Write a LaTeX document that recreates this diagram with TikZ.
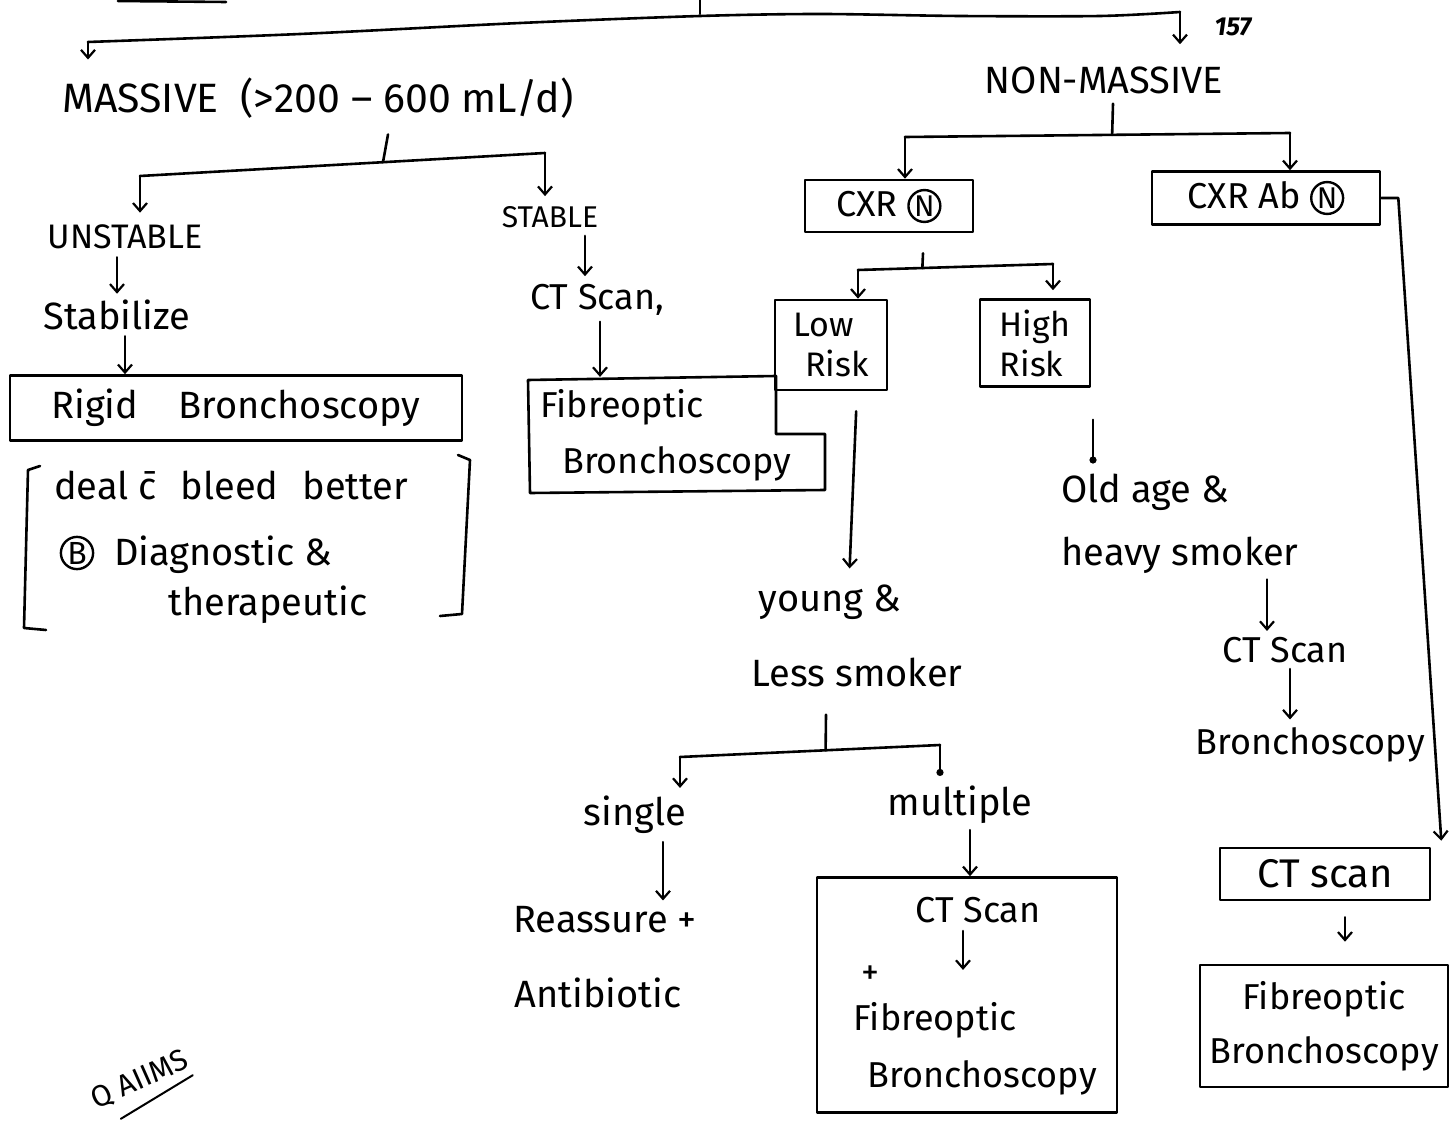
\documentclass[tikz,border=0pt]{standalone}
\usepackage{fontspec}
\setmainfont{Fira Sans}
\usetikzlibrary{arrows.meta,calc}
% a letter in a drawn ring, set inline
\newcommand\ringed[2][30]{\tikz[baseline=(ringtxt.base)]\node[draw,circle,line width=2.4pt,inner sep=1pt,minimum width=0pt,minimum height=0pt,font=\fontsize{#1}{#1}\selectfont](ringtxt){#2};}
\begin{document}
\begin{tikzpicture}[x=1pt,y=-1pt,
  ink/.style={line width=2.6pt,line cap=round,line join=round},
  arr/.style={ink,-{Straight Barb[length=8pt,width=14pt,line width=2.2pt]}},
  dotarr/.style={ink,-{Circle[length=7pt]}},
  hand/.style={inner sep=2pt,font=\fontsize{#1}{#1}\selectfont},
  hand/.default=36,
  box/.style={draw,ink,inner sep=0pt,align=center}]
\useasboundingbox[fill=white] (0,0) rectangle (1454,1123);

% ---------- text nodes ----------
\node[hand=41] (massive) at (318,98) {MASSIVE \ (>200 – 600 mL/d)};
\node[hand=38] (nonmass) at (1104,80) {NON-MASSIVE};
\node[font=\bfseries\itshape\fontsize{26}{26}\selectfont] (pg) at (1233,27) {157};

\node[hand=34] (unstable) at (125,237) {UNSTABLE};
\node[hand=30] (stable) at (550,217) {STABLE};
\node[hand=38] (stabz) at (117,315) {Stabilize};
\node[box,hand=38,minimum width=452,minimum height=65] (rigid) at (236,408) {Rigid\hspace{40pt}Bronchoscopy};
\node[hand=38,anchor=west] (deal) at (52,485) {deal \={c}\hspace{24pt}bleed\hspace{24pt}better};
\node[hand=36] (bmark) at (77,553) {\ringed[32]{B}};
\node[hand=38,anchor=west] (diag) at (112,555) {Diagnostic \&};
\node[hand=38] (therap) at (268,605) {therapeutic};

\node[hand=36] (stablect) at (597,300) {CT Scan,};
\node[hand=36,align=left,anchor=west] (fibro) at (538,435) {Fibreoptic\\[20pt]\hspace{22pt}Bronchoscopy};

\node[box,hand=36,minimum width=168,minimum height=52] (cxrn) at (889,206) {CXR \ringed{N}};
\node[box,hand=36,minimum width=228,minimum height=53] (cxrab) at (1266,198) {CXR Ab \ringed{N}};
\node[box,hand=34,align=left,minimum width=112,minimum height=90] (low) at (831,345) {Low\\[6pt]\hspace{12pt}Risk};
\node[box,hand=34,align=left,minimum width=110,minimum height=87] (high) at (1035,343) {High\\[6pt]Risk};

\node[hand=38] (young) at (830,602) {young \&};
\node[hand=38] (lesssm) at (857,672) {Less smoker};
\node[hand=38] (oldage) at (1145,492) {Old age \&};
\node[hand=38] (heavy) at (1180,555) {heavy smoker};
\node[hand=36] (ct2) at (1285,650) {CT Scan};
\node[hand=36] (bronch2) at (1310,745) {Bronchoscopy};

\node[box,hand=40,minimum width=210,minimum height=52] (ctbox) at (1325,874) {CT scan};
\node[box,hand=36,minimum width=248,minimum height=122] (fib3) at (1324,1026) {Fibreoptic\\[18pt]Bronchoscopy};

\node[hand=38] (single) at (635,815) {single};
\node[hand=38] (reass) at (605,920) {Reassure +};
\node[hand=38] (antib) at (598,993) {Antibiotic};
\node[hand=38] (multiple) at (960,805) {multiple};
\node[box,minimum width=300,minimum height=235] (multbox) at (967,995) {};
\node[hand=36] (ct3) at (978,910) {CT Scan};
\node[hand=36] (plus) at (870,975) {+};
\node[hand=36] (fib4) at (935,1020) {Fibreoptic};
\node[hand=36] (bron4) at (982,1078) {Bronchoscopy};

\node[hand=30,rotate=24] (aiims) at (140,1080) {Q AIIMS};
\draw[ink,line width=2pt] ([shift={(24pt,-4pt)}]aiims.south west) -- ([shift={(-2pt,-4pt)}]aiims.south east);

% ---------- brackets round the note ----------
\draw[ink] (40,466) -- (28,470) -- (24,628) -- (46,630);
\draw[ink] (458,455) -- (470,460) -- (462,614) -- (440,616);

% ---------- notched box ----------
\draw[ink] (528,380) -- (776,376) -- (776,434) -- (825,434) -- (825,490) -- (530,493) -- cycle;

% ---------- top splitter ----------
\draw[ink] (118,1) -- (226,2);
\coordinate (topA) at (700,-2);
\coordinate (topB) at (700,14);
\coordinate (barL) at (88,42);
\coordinate (barR) at (1180,12);
\draw[ink] (topA) -- (topB);
\draw[ink] plot[smooth] coordinates {(barL) (300,34) (520,23) (700,16) (820,14) (960,16) (1100,16) (barR)};
\draw[arr,shorten >=16pt] (barL) -- (barL |- massive.north);
\draw[arr,shorten >=20pt] (barR) -- (barR |- nonmass.north);

% ---------- massive branch ----------
\coordinate (mbL) at (140,176);
\coordinate (mbR) at (545,153);
\draw[ink] ([xshift=70pt]massive.south) ++(0,14) -- ($(mbL)!0.6!(mbR)$);
\draw[ink] (mbL) -- (mbR);
\draw[arr,shorten >=10pt] (mbL) -- (mbL |- unstable.north);
\draw[arr,shorten >=8pt] (mbR) -- (mbR |- stable.north);
\draw[arr,shorten <=6pt,shorten >=4pt] (stabz.north |- unstable.south) -- (stabz.north);
\draw[arr,shorten <=4pt] ([xshift=8pt]stabz.south) -- ([xshift=8pt]stabz.south |- rigid.north);
\draw[arr,shorten <=6pt,shorten >=6pt] ([xshift=35pt]stable.south) -- ([xshift=35pt]stable.south |- stablect.north);
\draw[arr,shorten <=4pt,shorten >=10pt] ([xshift=3pt]stablect.south) -- ([xshift=3pt]stablect.south |- fibro.north);

% ---------- non-massive branch ----------
\coordinate (nbL) at (905,137);
\coordinate (nbR) at (1290,133);
\draw[ink] ([xshift=9pt]nonmass.south) ++(0,8) -- ($(nbL)!0.538!(nbR)$);
\draw[ink] (nbL) -- (nbR);
\draw[arr] (nbL) -- (nbL |- cxrn.north);
\draw[arr] (nbR) -- (nbR |- cxrab.north);

\coordinate (cbL) at (858,270);
\coordinate (cbR) at (1053,264);
\draw[ink] ([xshift=34pt]cxrn.south) ++(0,20) -- ($(cbL)!0.33!(cbR)$);
\draw[ink] (cbL) -- (cbR);
\draw[arr] (cbL) -- (cbL |- low.north);
\draw[arr,shorten >=8pt] (cbR) -- (cbR |- high.north);

\draw[arr,shorten <=20pt,shorten >=14pt] ([xshift=26pt]low.south) -- ([xshift=19pt]young.north);
\draw[dotarr,shorten <=32pt,shorten >=8pt] ([xshift=58pt]high.south) -- ([xshift=58pt]high.south |- oldage.north);
\draw[arr,shorten <=4pt,shorten >=4pt] ([xshift=87pt]heavy.south) -- ([xshift=87pt]heavy.south |- ct2.north);
\draw[arr,shorten <=4pt,shorten >=6pt] ([xshift=5pt]ct2.south) -- ([xshift=5pt]ct2.south |- bronch2.north);

\draw[arr] (cxrab.east) -- ++(17,0) -- ([shift={(10,-6)}]ctbox.north east);
\draw[arr,shorten <=16pt,shorten >=22pt] ([xshift=20pt]ctbox.south) -- ([xshift=20pt]ctbox.south |- fib3.north);

% ---------- young / less smoker ----------
\coordinate (ybL) at (680,757);
\coordinate (ybR) at (940,745);
\draw[ink] ([xshift=-31pt]lesssm.south) ++(0,26) -- ($(ybL)!0.56!(ybR)$);
\draw[ink] (ybL) -- (ybR);
\draw[arr,shorten >=6pt] (ybL) -- (ybL |- single.north);
\draw[dotarr,shorten >=8pt] (ybR) -- (ybR |- multiple.north);
\draw[arr,shorten <=6pt,shorten >=4pt] ([xshift=28pt]single.south) -- ([xshift=28pt]single.south |- reass.north);
\draw[arr,shorten <=4pt] ([xshift=10pt]multiple.south) -- ([xshift=10pt]multiple.south |- multbox.north);
\draw[arr,shorten <=6pt,shorten >=30pt] ([xshift=-15pt]ct3.south) -- ([xshift=-15pt]ct3.south |- fib4.north);
\end{tikzpicture}
\end{document}
